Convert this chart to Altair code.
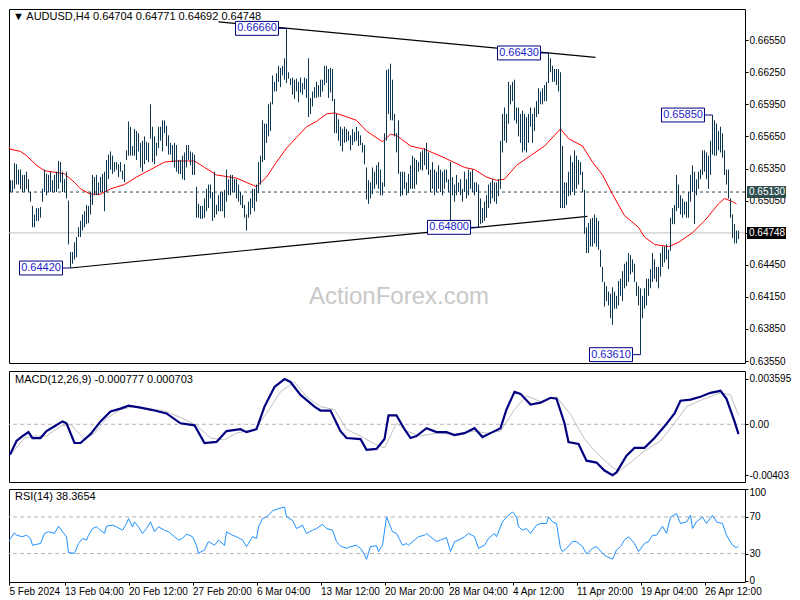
import altair as alt
import pandas as pd

# ---------------- data (bar index t = H4 bars since Mon 5 Feb 2024 00:00) ----------------
highs = [
    0.6490, 0.6504, 0.6501, 0.6513, 0.6524, 0.6524, 0.6524, 0.6540, 0.6539, 0.6534,
    0.6534, 0.6529, 0.6529, 0.6532, 0.6525, 0.6513, 0.6500, 0.6492, 0.6498, 0.6498,
    0.6499, 0.6516, 0.6534, 0.6530, 0.6529, 0.6532, 0.6524, 0.6529, 0.6532, 0.6542,
    0.6541, 0.6532, 0.6525, 0.6532, 0.6505, 0.6457, 0.6457, 0.6466, 0.6471, 0.6480,
    0.6486, 0.6492, 0.6495, 0.6501, 0.6500, 0.6513, 0.6529, 0.6527, 0.6529, 0.6522,
    0.6527, 0.6530, 0.6532, 0.6543, 0.6548, 0.6551, 0.6547, 0.6541, 0.6541, 0.6539,
    0.6541, 0.6533, 0.6539, 0.6552, 0.6579, 0.6574, 0.6556, 0.6572, 0.6570, 0.6568,
    0.6559, 0.6561, 0.6565, 0.6560, 0.6559, 0.6595, 0.6574, 0.6565, 0.6559, 0.6574,
    0.6574, 0.6580, 0.6580, 0.6575, 0.6566, 0.6559, 0.6557, 0.6559, 0.6557, 0.6543,
    0.6543, 0.6547, 0.6550, 0.6557, 0.6557, 0.6551, 0.6550, 0.6548, 0.6518, 0.6502,
    0.6500, 0.6500, 0.6507, 0.6516, 0.6520, 0.6520, 0.6513, 0.6532, 0.6501, 0.6510,
    0.6513, 0.6513, 0.6515, 0.6534, 0.6525, 0.6529, 0.6529, 0.6525, 0.6525, 0.6520,
    0.6513, 0.6510, 0.6501, 0.6492, 0.6504, 0.6507, 0.6516, 0.6516, 0.6520, 0.6541,
    0.6547, 0.6580, 0.6577, 0.6577, 0.6595, 0.6597, 0.6622, 0.6616, 0.6624, 0.6631,
    0.6629, 0.6631, 0.6638, 0.6666, 0.6625, 0.6619, 0.6620, 0.6618, 0.6619, 0.6616,
    0.6620, 0.6615, 0.6620, 0.6619, 0.6638, 0.6601, 0.6607, 0.6611, 0.6616, 0.6613,
    0.6618, 0.6618, 0.6631, 0.6631, 0.6628, 0.6629, 0.6628, 0.6600, 0.6586, 0.6581,
    0.6574, 0.6572, 0.6574, 0.6572, 0.6570, 0.6566, 0.6572, 0.6569, 0.6574, 0.6570,
    0.6566, 0.6559, 0.6557, 0.6536, 0.6524, 0.6522, 0.6536, 0.6532, 0.6538, 0.6541,
    0.6534, 0.6522, 0.6568, 0.6627, 0.6628, 0.6633, 0.6618, 0.6586, 0.6568, 0.6580,
    0.6532, 0.6532, 0.6532, 0.6522, 0.6530, 0.6538, 0.6547, 0.6545, 0.6543, 0.6541,
    0.6550, 0.6552, 0.6554, 0.6559, 0.6550, 0.6534, 0.6541, 0.6534, 0.6532, 0.6538,
    0.6534, 0.6532, 0.6534, 0.6534, 0.6525, 0.6541, 0.6527, 0.6520, 0.6529, 0.6522,
    0.6525, 0.6516, 0.6532, 0.6525, 0.6534, 0.6532, 0.6534, 0.6522, 0.6522, 0.6520,
    0.6507, 0.6498, 0.6504, 0.6510, 0.6520, 0.6522, 0.6525, 0.6522, 0.6522, 0.6525,
    0.6561, 0.6586, 0.6592, 0.6586, 0.6616, 0.6613, 0.6616, 0.6618, 0.6592, 0.6592,
    0.6586, 0.6589, 0.6586, 0.6583, 0.6586, 0.6592, 0.6586, 0.6592, 0.6598, 0.6610,
    0.6607, 0.6610, 0.6613, 0.6616, 0.6643, 0.6638, 0.6631, 0.6628, 0.6628, 0.6628,
    0.6625, 0.6556, 0.6522, 0.6522, 0.6532, 0.6547, 0.6541, 0.6552, 0.6547, 0.6543,
    0.6541, 0.6532, 0.6515, 0.6480, 0.6484, 0.6488, 0.6489, 0.6492, 0.6489, 0.6486,
    0.6459, 0.6443, 0.6429, 0.6425, 0.6420, 0.6418, 0.6424, 0.6420, 0.6416, 0.6430,
    0.6432, 0.6439, 0.6446, 0.6448, 0.6456, 0.6454, 0.6450, 0.6446, 0.6429, 0.6425,
    0.6423, 0.6416, 0.6423, 0.6432, 0.6432, 0.6441, 0.6456, 0.6450, 0.6443, 0.6443,
    0.6456, 0.6462, 0.6462, 0.6464, 0.6459, 0.6489, 0.6498, 0.6501, 0.6529, 0.6520,
    0.6510, 0.6507, 0.6504, 0.6504, 0.6513, 0.6529, 0.6538, 0.6532, 0.6525, 0.6532,
    0.6534, 0.6552, 0.6552, 0.6550, 0.6547, 0.6561, 0.6585, 0.6580, 0.6577, 0.6570,
    0.6574, 0.6568, 0.6552, 0.6534, 0.6534, 0.6507, 0.6492, 0.6483, 0.6477, 0.6477,
]
lows = [
    0.6477, 0.6486, 0.6489, 0.6489, 0.6495, 0.6513, 0.6513, 0.6516, 0.6520, 0.6520,
    0.6516, 0.6513, 0.6513, 0.6516, 0.6513, 0.6504, 0.6480, 0.6480, 0.6486, 0.6486,
    0.6489, 0.6504, 0.6513, 0.6510, 0.6513, 0.6513, 0.6513, 0.6513, 0.6513, 0.6516,
    0.6522, 0.6513, 0.6513, 0.6507, 0.6464, 0.6442, 0.6446, 0.6450, 0.6452, 0.6471,
    0.6471, 0.6477, 0.6480, 0.6483, 0.6484, 0.6492, 0.6501, 0.6510, 0.6510, 0.6510,
    0.6513, 0.6513, 0.6495, 0.6513, 0.6525, 0.6534, 0.6530, 0.6532, 0.6534, 0.6527,
    0.6532, 0.6525, 0.6522, 0.6543, 0.6547, 0.6547, 0.6547, 0.6547, 0.6543, 0.6551,
    0.6536, 0.6532, 0.6539, 0.6543, 0.6541, 0.6563, 0.6541, 0.6539, 0.6547, 0.6554,
    0.6561, 0.6551, 0.6568, 0.6556, 0.6548, 0.6548, 0.6541, 0.6536, 0.6532, 0.6530,
    0.6530, 0.6525, 0.6524, 0.6536, 0.6543, 0.6538, 0.6529, 0.6529, 0.6489, 0.6489,
    0.6488, 0.6488, 0.6489, 0.6495, 0.6498, 0.6507, 0.6486, 0.6489, 0.6492, 0.6495,
    0.6495, 0.6495, 0.6489, 0.6504, 0.6510, 0.6510, 0.6513, 0.6513, 0.6507, 0.6504,
    0.6501, 0.6498, 0.6489, 0.6477, 0.6489, 0.6492, 0.6498, 0.6495, 0.6504, 0.6512,
    0.6520, 0.6541, 0.6543, 0.6559, 0.6565, 0.6570, 0.6595, 0.6607, 0.6607, 0.6616,
    0.6611, 0.6622, 0.6618, 0.6615, 0.6619, 0.6613, 0.6604, 0.6600, 0.6607, 0.6597,
    0.6606, 0.6604, 0.6609, 0.6601, 0.6583, 0.6586, 0.6593, 0.6601, 0.6601, 0.6602,
    0.6602, 0.6607, 0.6613, 0.6615, 0.6601, 0.6606, 0.6598, 0.6568, 0.6568, 0.6561,
    0.6556, 0.6551, 0.6559, 0.6560, 0.6561, 0.6552, 0.6557, 0.6560, 0.6561, 0.6556,
    0.6557, 0.6550, 0.6539, 0.6506, 0.6502, 0.6507, 0.6511, 0.6516, 0.6520, 0.6516,
    0.6510, 0.6510, 0.6518, 0.6561, 0.6586, 0.6580, 0.6580, 0.6565, 0.6550, 0.6530,
    0.6509, 0.6510, 0.6516, 0.6510, 0.6512, 0.6516, 0.6516, 0.6516, 0.6520, 0.6532,
    0.6534, 0.6533, 0.6538, 0.6534, 0.6529, 0.6513, 0.6516, 0.6510, 0.6513, 0.6516,
    0.6513, 0.6510, 0.6516, 0.6522, 0.6513, 0.6483, 0.6510, 0.6504, 0.6510, 0.6513,
    0.6510, 0.6504, 0.6513, 0.6507, 0.6510, 0.6516, 0.6513, 0.6510, 0.6513, 0.6480,
    0.6483, 0.6484, 0.6486, 0.6489, 0.6498, 0.6502, 0.6507, 0.6504, 0.6502, 0.6509,
    0.6516, 0.6550, 0.6561, 0.6559, 0.6577, 0.6595, 0.6598, 0.6580, 0.6577, 0.6565,
    0.6559, 0.6550, 0.6552, 0.6550, 0.6559, 0.6574, 0.6559, 0.6570, 0.6583, 0.6586,
    0.6595, 0.6595, 0.6598, 0.6598, 0.6615, 0.6625, 0.6616, 0.6616, 0.6613, 0.6607,
    0.6498, 0.6498, 0.6498, 0.6501, 0.6509, 0.6510, 0.6513, 0.6510, 0.6516, 0.6520,
    0.6529, 0.6513, 0.6474, 0.6456, 0.6456, 0.6462, 0.6462, 0.6465, 0.6462, 0.6459,
    0.6443, 0.6429, 0.6406, 0.6411, 0.6407, 0.6395, 0.6389, 0.6404, 0.6404, 0.6407,
    0.6416, 0.6411, 0.6423, 0.6425, 0.6429, 0.6436, 0.6438, 0.6429, 0.6416, 0.6407,
    0.6361, 0.6395, 0.6404, 0.6407, 0.6416, 0.6423, 0.6429, 0.6432, 0.6429, 0.6423,
    0.6434, 0.6443, 0.6447, 0.6450, 0.6441, 0.6458, 0.6483, 0.6483, 0.6495, 0.6498,
    0.6492, 0.6489, 0.6492, 0.6489, 0.6489, 0.6504, 0.6513, 0.6483, 0.6510, 0.6516,
    0.6525, 0.6529, 0.6532, 0.6525, 0.6516, 0.6529, 0.6548, 0.6547, 0.6547, 0.6552,
    0.6550, 0.6545, 0.6529, 0.6520, 0.6507, 0.6489, 0.6470, 0.6465, 0.6465, 0.6469,
]
bar_t = list(range(5, 5 + len(highs)))

ma_t = [5, 10, 15, 18, 23, 27, 37, 42, 45, 50, 55, 60, 67, 73, 80, 87, 92, 102, 107, 113,
        123, 133, 138, 143, 148, 153, 158, 163, 168, 172, 177, 183, 188, 196, 200, 203, 210, 217, 227, 237,
        242, 248, 253, 257, 263, 270, 277, 285, 289, 296, 301, 306, 311, 317, 324, 327, 332, 339, 344, 351,
        357, 364, 367, 371, 373]
ma_v = [0.6566, 0.6553, 0.6551, 0.6547, 0.6538, 0.6533, 0.6530, 0.6522, 0.6516, 0.6511,
        0.6511, 0.6516, 0.6520, 0.6527, 0.6534, 0.6541, 0.6542, 0.6542, 0.6536, 0.6529,
        0.6526, 0.6518, 0.6527, 0.6541, 0.6554, 0.6564, 0.6574, 0.6579, 0.6586, 0.6587,
        0.6584, 0.6580, 0.6570, 0.6560, 0.6567, 0.6566, 0.6556, 0.6553, 0.6545, 0.6536,
        0.6534, 0.6527, 0.6524, 0.6525, 0.6538, 0.6547, 0.6556, 0.6572, 0.6563, 0.6556,
        0.6541, 0.6529, 0.6511, 0.6491, 0.6480, 0.6471, 0.6464, 0.6462, 0.6466, 0.6475,
        0.6486, 0.6502, 0.6507, 0.6504, 0.6502]

macd_t = [5, 10, 13, 16, 19, 21, 25, 28, 32, 36, 38, 42, 45, 50, 55, 60, 65, 69, 75, 82,
          88, 95, 102, 107, 113, 118, 125, 128, 133, 137, 142, 147, 150, 155, 162, 165, 170, 175, 178, 185,
          188, 193, 197, 199, 203, 207, 210, 213, 218, 223, 228, 232, 237, 242, 246, 250, 255, 258, 262, 265,
          270, 275, 280, 283, 287, 289, 294, 298, 303, 307, 311, 313, 318, 322, 327, 332, 337, 342, 345, 350,
          355, 360, 365, 368, 372, 374]
macd_v = [-0.00272, -0.00233, -0.00132, -0.00093, -0.00062, -0.00109, -0.00109, -0.00054, -0.00016, 0.00023,
          0.00008, -0.00148, -0.00148, -0.00078, 0.00023, 0.00101, 0.00124, 0.00148, 0.00132, 0.00109,
          0.00086, 0.00008, -0.00008, -0.00148, -0.00140, -0.00054, -0.00039, -0.00062, -0.00039, 0.00140,
          0.00296, 0.00358, 0.00335, 0.00233, 0.00140, 0.00109, 0.00109, -0.00054, -0.00109, -0.00117,
          -0.00202, -0.00195, -0.00117, 0.00070, 0.00070, -0.00039, -0.00109, -0.00093, -0.00031, -0.00062,
          -0.00062, -0.00086, -0.00070, -0.00031, -0.00101, -0.00070, -0.00031, 0.00117, 0.00257, 0.00241,
          0.00156, 0.00171, 0.00210, 0.00202, 0.00008, -0.00140, -0.00156, -0.00288, -0.00303, -0.00366,
          -0.00403, -0.00381, -0.00249, -0.00187, -0.00187, -0.00109, -0.00016, 0.00086, 0.00187, 0.00195,
          0.00218, 0.00249, 0.00265, 0.00202, 0.00023, -0.00078]

sig_t = [5, 10, 17, 22, 28, 35, 40, 47, 52, 58, 65, 72, 80, 88, 97, 103, 110, 117, 123, 132,
         138, 145, 152, 158, 165, 172, 178, 185, 192, 197, 203, 208, 215, 223, 232, 242, 248, 255, 262, 268,
         275, 283, 290, 297, 303, 310, 314, 320, 327, 335, 342, 348, 357, 365, 370, 374]
sig_v = [-0.00171, -0.00241, -0.00109, -0.00093, -0.00093, -0.00016, 0.0, -0.00117, -0.00070, 0.00047,
         0.00117, 0.00140, 0.00124, 0.00101, 0.00039, -0.00008, -0.00109, -0.00124, -0.00070, -0.00039,
         0.00086, 0.00257, 0.00335, 0.00218, 0.00140, 0.00117, -0.00039, -0.00093, -0.00156, -0.00187,
         0.00008, -0.00054, -0.00093, -0.00070, -0.00078, -0.00054, -0.00070, -0.00054, 0.00117, 0.00226,
         0.00179, 0.00218, 0.00078, -0.00117, -0.00226, -0.00327, -0.00373, -0.00303, -0.00210, -0.00132,
         0.00008, 0.00140, 0.00202, 0.00249, 0.00233, 0.00070]

rsi_t = [5, 7, 8, 10, 12, 13, 16, 18, 20, 21, 23, 25, 27, 29, 32, 34, 36, 38, 39, 42,
         44, 46, 48, 49, 51, 53, 54, 57, 58, 61, 63, 66, 68, 69, 71, 72, 74, 76, 78, 80,
         82, 84, 87, 89, 92, 94, 96, 98, 101, 103, 104, 107, 109, 112, 114, 117, 118, 121, 123, 126,
         128, 129, 131, 133, 134, 136, 138, 141, 144, 147, 148, 151, 153, 156, 158, 161, 163, 166, 168, 171,
         173, 175, 178, 180, 183, 185, 187, 188, 190, 193, 194, 196, 198, 201, 203, 206, 208, 209, 212, 214,
         217, 218, 221, 223, 225, 228, 230, 232, 234, 237, 239, 242, 244, 247, 249, 252, 253, 256, 258, 261,
         263, 264, 266, 268, 270, 273, 275, 278, 279, 281, 283, 285, 286, 288, 291, 293, 296, 298, 301, 303,
         306, 308, 311, 313, 315, 317, 319, 322, 324, 327, 329, 331, 333, 336, 338, 340, 343, 345, 348, 350,
         351, 353, 356, 358, 361, 363, 366, 368, 371, 373, 374]
rsi_v = [33.9, 41, 39, 46.5, 52.7, 50, 48.4, 50, 46.5, 39, 40, 41, 52, 53.8, 52, 59.8, 53.8, 48.4, 31, 30.3,
         41, 46.5, 44.7, 50, 57.3, 59.2, 57.3, 52, 59.8, 61, 59.2, 55.5, 62.8, 68.2, 59.2, 64.6, 59.2, 52, 57.3, 64.6,
         53.8, 59.2, 55.5, 53.8, 48.4, 44.7, 46.5, 51.2, 48.4, 39, 30.3, 33.9, 43, 39, 44.7, 39, 53.8, 50, 48.4, 44.7,
         37.6, 41, 48.4, 46.5, 59.2, 68.2, 70, 76.5, 79, 80.8, 70, 66.3, 57.3, 61, 52, 55.5, 57.3, 62, 57.3, 55.5,
         43, 38.2, 35.7, 37.6, 39, 35.7, 28.5, 23.8, 37.6, 38.6, 32.2, 39, 70, 53.8, 52, 39, 41, 39, 44.7, 48.4,
         50, 52, 46.5, 43, 44.7, 47.3, 32.2, 43, 44.7, 48.4, 52, 48.4, 35.7, 39, 46.5, 52, 48.4, 64.6, 70, 75.4,
         70, 59.2, 55.5, 57.3, 52, 61, 62.8, 62.8, 70, 64.6, 62.8, 35.7, 32.2, 35.7, 43, 43, 37.6, 29.6, 35.7, 37.6,
         30.3, 26.8, 23.8, 33.9, 37.6, 44.7, 48.4, 41, 32.2, 41, 43, 50, 50, 59.8, 52, 70, 73.6, 62.8, 64.6, 71.7,
         57.3, 64.6, 70, 62.8, 71.7, 64.6, 62.8, 50, 39, 36.5, 38.4]

tick_t = [9.25, 37, 69, 101, 133, 165, 197, 229, 261, 293, 325, 357]
tick_labels = ["5 Feb 2024", "13 Feb 04:00", "20 Feb 12:00", "27 Feb 20:00", "6 Mar 04:00",
               "13 Mar 12:00", "20 Mar 20:00", "28 Mar 04:00", "4 Apr 12:00", "11 Apr 20:00",
               "19 Apr 04:00", "26 Apr 12:00"]
price_ticks = [0.6355, 0.6385, 0.6415, 0.6445, 0.6475, 0.6505, 0.6535, 0.6565, 0.6595, 0.6625, 0.6655]
rsi_levels = [30, 70]
rsi_ticks = [0, 30, 70, 100]

ann_labels = ["0.66660", "0.66430", "0.64800", "0.64420", "0.65850", "0.63610"]
ann_t = [148, 279, 244, 40, 361, 325]
ann_price = [0.6666, 0.6643, 0.6480, 0.6442, 0.6585, 0.6361]

trend_id = ["upper", "upper", "lower", "lower"]
trend_t = [114, 302.5, 40, 298.5]
trend_p = [0.66721, 0.66389, 0.6442, 0.64902]

ref_price = 0.6513
last_price = 0.64748
header = "\u25BC AUDUSD,H4  0.64704 0.64771 0.64692 0.64748"
macd_header = "MACD(12,26,9) -0.000777 0.000703"
rsi_header = "RSI(14) 38.3654"

# ---------------- layout / style ----------------
W = 736
H_MAIN, H_MACD, H_RSI = 354, 111, 93
FONT = "Liberation Sans"
BAR_COLOR = "#0b3550"
XS = alt.Scale(domain=[9.25, 377.25], nice=False, zero=False)
X_NONE = alt.X("t:Q", scale=XS, axis=None)

bars_df = pd.DataFrame({"t": bar_t, "high": highs, "low": lows})
bars_df = bars_df[bars_df["t"] >= 10]
ma_df = pd.DataFrame({"t": ma_t, "v": ma_v})
ann_df = pd.DataFrame({"label": ann_labels, "t": ann_t, "price": ann_price})
trend_df = pd.DataFrame({"id": trend_id, "t": trend_t, "price": trend_p})
lvl_df = pd.DataFrame({"price": [ref_price], "label": ["%.5f" % ref_price]})
last_df = pd.DataFrame({"price": [last_price], "label": ["%.5f" % last_price]})

YS_MAIN = alt.Scale(domain=[0.63532, 0.66841], nice=False, zero=False)
y_axis_main = alt.Axis(values=price_ticks, format=".5f", orient="right", tickSize=3,
                       labelPadding=1, labelOverlap=False, domain=False, grid=False, title=None)

bars = alt.Chart(bars_df).mark_rule(color=BAR_COLOR, strokeWidth=1).encode(
    x=X_NONE,
    y=alt.Y("high:Q", scale=YS_MAIN, axis=y_axis_main),
    y2="low:Q",
)
ma = alt.Chart(ma_df).mark_line(color="#ff0000", strokeWidth=1, clip=True).encode(
    x=X_NONE, y=alt.Y("v:Q", scale=YS_MAIN, axis=y_axis_main))

dash_line = alt.Chart(lvl_df).mark_rule(color="#2f4f4f", strokeDash=[3, 3], strokeWidth=1).encode(
    y=alt.Y("price:Q", scale=YS_MAIN, axis=y_axis_main))
last_line = alt.Chart(last_df).mark_rule(color="#c0c0c0", strokeWidth=1).encode(
    y=alt.Y("price:Q", scale=YS_MAIN, axis=y_axis_main))

trend = alt.Chart(trend_df).mark_line(color="black", strokeWidth=1.2).encode(
    x=X_NONE, y=alt.Y("price:Q", scale=YS_MAIN, axis=y_axis_main), detail="id:N")

ann_base = alt.Chart(ann_df).transform_calculate(
    x0="datum.t - 25.5", x1="datum.t - 4", xm="datum.t - 14.75",
    ytop="datum.price + 0.00065", ybot="datum.price - 0.00065")
ann_conn = ann_base.mark_rule(color="#000080", strokeWidth=1).encode(
    x=alt.X("x1:Q", scale=XS, axis=None), x2="t:Q", y=alt.Y("price:Q", scale=YS_MAIN, axis=y_axis_main))
ann_box = ann_base.mark_rect(fill="white", stroke="#000080", strokeWidth=1).encode(
    x=alt.X("x0:Q", scale=XS, axis=None), x2="x1:Q",
    y=alt.Y("ytop:Q", scale=YS_MAIN, axis=y_axis_main), y2="ybot:Q")
ann_text = ann_base.mark_text(font=FONT, fontSize=11, color="#1c1cc8", baseline="middle").encode(
    x=alt.X("xm:Q", scale=XS, axis=None), y=alt.Y("price:Q", scale=YS_MAIN, axis=y_axis_main),
    text="label:N")

# price tags on the right axis
def tag(df, fill):
    base = alt.Chart(df).transform_calculate(ytop="datum.price + 0.00056", ybot="datum.price - 0.00056")
    box = base.mark_rect(fill=fill).encode(
        x=alt.value(W + 2), x2=alt.value(W + 41),
        y=alt.Y("ytop:Q", scale=YS_MAIN, axis=y_axis_main), y2="ybot:Q")
    txt = base.mark_text(font=FONT, fontSize=10, color="white", align="left", baseline="middle").encode(
        x=alt.value(W + 4), y=alt.Y("price:Q", scale=YS_MAIN, axis=y_axis_main), text="label:N")
    return box + txt

tag_ref = tag(lvl_df, "#2f4f4f")
tag_last = tag(last_df, "#000000")

head = alt.Chart(pd.DataFrame({"txt": [header]})).mark_text(
    font=FONT, fontSize=11, align="left", baseline="middle", color="black").encode(
    x=alt.value(4), y=alt.value(8), text="txt:N")
water = alt.Chart(pd.DataFrame({"txt": ["ActionForex.com"]})).mark_text(
    font=FONT, fontSize=24, align="center", baseline="middle", color="#c8c8c8").encode(
    x=alt.value(390), y=alt.value(288), text="txt:N")

main = alt.layer(water, last_line, dash_line, trend, ma, bars, ann_conn, ann_box, ann_text,
                 tag_ref, tag_last, head).properties(width=W, height=H_MAIN)

# ---------------- MACD ----------------
YS_MACD = alt.Scale(domain=[-0.00457, 0.00422], nice=False, zero=False)
macd_axis = alt.Axis(values=[-0.00403, 0, 0.003595], orient="right", tickSize=3, labelPadding=1,
                     labelExpr="datum.value > 0.001 ? '0.003595' : (datum.value < -0.001 ? '-0.00403' : '0.00')",
                     labelOverlap=False, domain=False, grid=False, title=None)
macd_df = pd.DataFrame({"t": macd_t, "v": macd_v})
sig_df = pd.DataFrame({"t": sig_t, "v": sig_v})
zero_df = pd.DataFrame({"v": [0.0]})

macd_zero = alt.Chart(zero_df).mark_rule(color="#b4b4b4", strokeDash=[4, 3], strokeWidth=1).encode(
    y=alt.Y("v:Q", scale=YS_MACD, axis=macd_axis))
macd_sig = alt.Chart(sig_df).mark_line(color="#c0c0c0", strokeWidth=1, clip=True).encode(
    x=X_NONE, y=alt.Y("v:Q", scale=YS_MACD, axis=macd_axis))
macd_line = alt.Chart(macd_df).mark_line(color="#000080", strokeWidth=2.2, clip=True).encode(
    x=X_NONE, y=alt.Y("v:Q", scale=YS_MACD, axis=macd_axis))
macd_head = alt.Chart(pd.DataFrame({"txt": [macd_header]})).mark_text(
    font=FONT, fontSize=11, align="left", baseline="middle", color="black").encode(
    x=alt.value(6), y=alt.value(9), text="txt:N")
macd = alt.layer(macd_zero, macd_sig, macd_line, macd_head).properties(width=W, height=H_MACD)

# ---------------- RSI ----------------
YS_RSI = alt.Scale(domain=[-1.1, 100.5], nice=False, zero=False)
rsi_axis = alt.Axis(values=rsi_ticks, format="d", orient="right", tickSize=3, labelPadding=1,
                    labelFlush=True, labelFlushOffset=2, labelOverlap=False,
                    domain=False, grid=False, title=None)
expr = "''"
for tv, lab in reversed(list(zip(tick_t, tick_labels))):
    expr = "datum.value == %s ? '%s' : (%s)" % (tv, lab, expr)
x_axis = alt.Axis(values=tick_t, labelExpr=expr, tickSize=3, labelAlign="left", labelPadding=1,
                  labelFlush=False, labelOverlap=False, labelBound=False, domain=False, grid=False,
                  title=None)
rsi_df = pd.DataFrame({"t": rsi_t, "v": rsi_v})
lev_df = pd.DataFrame({"v": rsi_levels})
rsi_lev = alt.Chart(lev_df).mark_rule(color="#b4b4b4", strokeDash=[4, 3], strokeWidth=1).encode(
    y=alt.Y("v:Q", scale=YS_RSI, axis=rsi_axis))
rsi_line = alt.Chart(rsi_df).mark_line(color="#1e90ff", strokeWidth=1, clip=True).encode(
    x=alt.X("t:Q", scale=XS, axis=x_axis), y=alt.Y("v:Q", scale=YS_RSI, axis=rsi_axis))
rsi_head = alt.Chart(pd.DataFrame({"txt": [rsi_header]})).mark_text(
    font=FONT, fontSize=11, align="left", baseline="middle", color="black").encode(
    x=alt.value(6), y=alt.value(8), text="txt:N")
rsi = alt.layer(rsi_lev, rsi_line, rsi_head).properties(width=W, height=H_RSI)

chart = alt.vconcat(main, macd, rsi, spacing=3).properties(
    padding={"left": 0, "top": 0, "right": 0, "bottom": 0},
    background="white",
).configure_view(stroke="black", strokeWidth=1).configure_axis(
    labelFont=FONT, labelFontSize=10, labelColor="black", tickColor="black", tickWidth=1,
)

chart.save("out.html", embed_options={"renderer": "svg", "actions": False})
